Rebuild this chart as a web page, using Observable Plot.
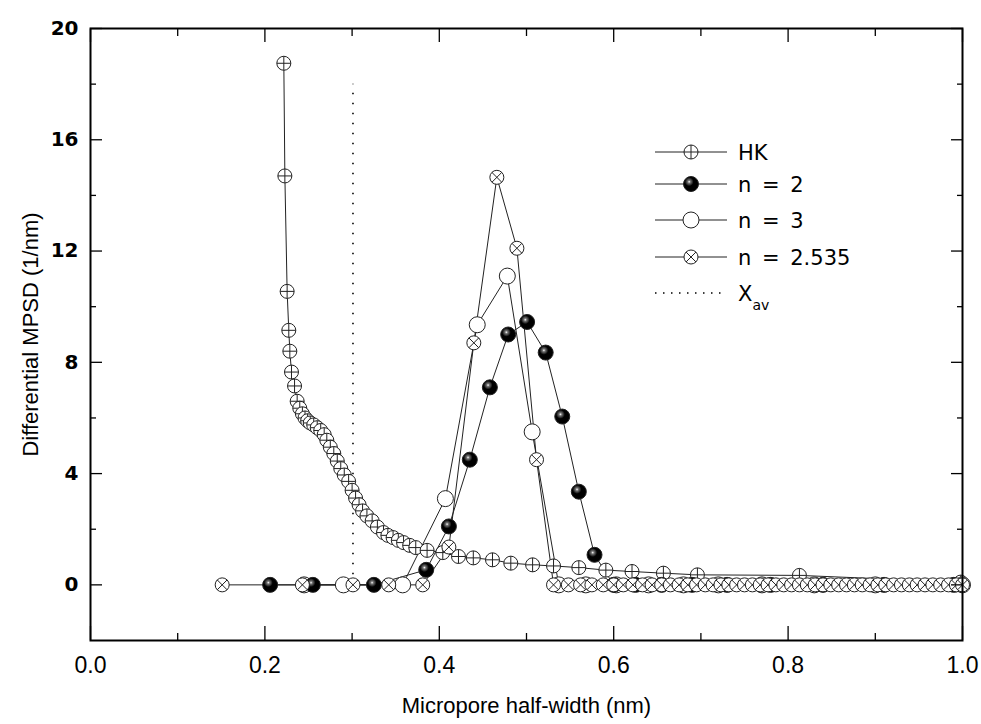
<!DOCTYPE html>
<html><head><meta charset="utf-8">
<script src="https://cdn.jsdelivr.net/npm/d3@7"></script>
<script src="https://cdn.jsdelivr.net/npm/@observablehq/plot@0.6"></script>
<style>body{margin:0;background:#fff}#chart{position:relative;width:981px;height:724px}</style>
</head><body><div id="chart"></div>
<script>
// ---- data ----
const hkX = [0.2217,0.2229,0.2255,0.2274,0.2286,0.2305,0.2340,0.2370,0.2400,0.2430,0.2460,0.2490,0.2520,0.2560,0.2600,0.2640,0.2680,0.2710,0.2750,0.2790,0.2830,0.2870,0.2910,0.2960,0.3000,0.3040,0.3080,0.3120,0.3170,0.3230,0.3290,0.3360,0.3410,0.3470,0.3530,0.3590,0.3660,0.3730,0.3860,0.4040,0.4220,0.4390,0.4610,0.4820,0.5070,0.5310,0.5600,0.5910,0.6210,0.6570,0.6960,0.8130,0.9980];
const hkY = [18.75,14.7,10.55,9.15,8.4,7.65,7.15,6.6,6.35,6.15,6.0,5.9,5.82,5.75,5.65,5.55,5.4,5.2,4.95,4.72,4.45,4.18,3.95,3.72,3.4,3.12,2.88,2.66,2.48,2.3,2.08,1.88,1.78,1.7,1.6,1.52,1.42,1.34,1.24,1.16,1.02,0.97,0.9,0.78,0.72,0.68,0.62,0.53,0.48,0.42,0.36,0.34,0.1];

const n2X = [0.206,0.255,0.325,0.385,0.411,0.435,0.458,0.479,0.5007,0.522,0.541,0.560,0.578,0.600,0.625,0.655,0.690,0.730,0.780,0.840,0.910,0.990];
const n2Y = [0,0,0,0.54,2.1,4.5,7.1,9.0,9.45,8.35,6.05,3.35,1.08,0,0,0,0,0,0,0,0,0];

const n3X = [0.245,0.290,0.358,0.407,0.4435,0.478,0.5065,0.537,0.568,0.603,0.640,0.680,0.720,0.770,0.830,0.900,1.000];
const n3Y = [0,0,0,3.1,9.35,11.1,5.5,0,0,0,0,0,0,0,0,0,0];

const n25X = [0.151,0.243,0.301,0.342,0.381,0.411,0.4396,0.466,0.489,0.5115,0.531,0.548,0.562,0.575,0.588,0.600,0.611,0.622,0.633,0.644,0.655,0.665,0.675,0.685,0.695,0.705,0.714,0.723,0.732,0.741,0.750,0.759,0.768,0.777,0.786,0.795,0.804,0.813,0.822,0.831,0.840,0.849,0.858,0.867,0.876,0.885,0.894,0.903,0.912,0.921,0.930,0.939,0.948,0.957,0.966,0.975,0.984,0.993,1.000];
const n25Y = [0,0,0,0,0,1.36,8.7,14.65,12.1,4.5,0,0,0,0,0,0,0,0,0,0,0,0,0,0,0,0,0,0,0,0,0,0,0,0,0,0,0,0,0,0,0,0,0,0,0,0,0,0,0,0,0,0,0,0,0,0,0,0,0];

const xavValue = 0.301, xavBottom = 0, xavTop = 18;

const seriesLabels = ["HK", "n = 2", "n = 3", "n = 2.535"];
const xMajor = [0, 0.2, 0.4, 0.6, 0.8, 1.0];
const xMinor = [0.1, 0.3, 0.5, 0.7, 0.9];
const yMajor = [0, 4, 8, 12, 16, 20];
const yMinor = [2, 6, 10, 14, 18];
const xTitle = "Micropore half-width (nm)";
const yTitle = "Differential MPSD (1/nm)";

// ---- build ----
const zip = (xs, ys) => xs.map((x, i) => ({x, y: ys[i]}));
const hk = zip(hkX, hkY), n2 = zip(n2X, n2Y), n3 = zip(n3X, n3Y), n25 = zip(n25X, n25Y);

const circlePlus = {draw(c, size) {const r = Math.sqrt(size / Math.PI);
  c.moveTo(r, 0); c.arc(0, 0, r, 0, 2 * Math.PI); c.closePath();
  c.moveTo(-r, 0); c.lineTo(r, 0); c.moveTo(0, -r); c.lineTo(0, r);}};
const circleX = {draw(c, size) {const r = Math.sqrt(size / Math.PI), k = r * Math.SQRT1_2;
  c.moveTo(r, 0); c.arc(0, 0, r, 0, 2 * Math.PI); c.closePath();
  c.moveTo(-k, -k); c.lineTo(k, k); c.moveTo(-k, k); c.lineTo(k, -k);}};
const circleO = {draw(c, size) {const r = Math.sqrt(size / Math.PI);
  c.moveTo(r, 0); c.arc(0, 0, r, 0, 2 * Math.PI); c.closePath();}};

const styles = [
  {data: hk, symbol: circlePlus, fill: "white", r: 7},
  {data: n2, symbol: circleO, fill: "url(#sphere)", r: 7.5},
  {data: n3, symbol: circleO, fill: "white", r: 8},
  {data: n25, symbol: circleX, fill: "white", r: 7}
];
const order = [0, 2, 1, 3];

const tickCommon = {fill: "none", label: null, stroke: "black", strokeWidth: 1.3};
const marks = [
  Plot.ruleX([xavValue], {x: d => d, y1: xavBottom, y2: xavTop, stroke: "black", strokeWidth: 1.6, strokeDasharray: "1.6,8.4"}),
];
for (const i of order) {
  const s = styles[i];
  marks.push(Plot.line(s.data, {x: "x", y: "y", stroke: "#222", strokeWidth: 1}));
}
for (const i of order) {
  const s = styles[i];
  marks.push(Plot.dot(s.data, {x: "x", y: "y", r: s.r, symbol: s.symbol, fill: s.fill, stroke: "#222", strokeWidth: 1}));
}
marks.push(
  Plot.frame({stroke: "black", strokeWidth: 2}),
  Plot.axisX(xMajor, {anchor: "bottom", tickSize: 14, dy: -14, ...tickCommon}),
  Plot.axisX(xMinor, {anchor: "bottom", tickSize: 7, dy: -7, ...tickCommon}),
  Plot.axisX(xMajor, {anchor: "top", tickSize: 13, dy: 13, ...tickCommon}),
  Plot.axisX(xMinor, {anchor: "top", tickSize: 7, dy: 7, ...tickCommon}),
  Plot.axisY(yMajor, {anchor: "left", tickSize: 12, dx: 12, ...tickCommon}),
  Plot.axisY(yMinor, {anchor: "left", tickSize: 6, dx: 6, ...tickCommon}),
  Plot.axisY(yMajor, {anchor: "right", tickSize: 12, dx: -12, ...tickCommon}),
  Plot.axisY(yMinor, {anchor: "right", tickSize: 6, dx: -6, ...tickCommon}),
  Plot.axisX(xMajor, {anchor: "bottom", tickSize: 0, tickPadding: 16, tickFormat: d3.format(".1f"), fontSize: 23, label: null}),
  Plot.axisY(yMajor, {anchor: "left", tickSize: 0, tickPadding: 12, fontSize: 20, fontWeight: "bold", fontFamily: "DejaVu Sans", label: null}),
  Plot.text([xTitle], {frameAnchor: "bottom", dy: 65, lineAnchor: "middle", textAnchor: "middle", fontSize: 22, text: d => d}),
  Plot.text([yTitle], {frameAnchor: "left", dx: -60, rotate: -90, textAnchor: "middle", lineAnchor: "middle", fontSize: 22, text: d => d})
);

const chart = Plot.plot({
  width: 981, height: 724,
  marginLeft: 90, marginRight: 19, marginTop: 28, marginBottom: 84,
  style: {fontFamily: "Liberation Sans, Arial, sans-serif", background: "white", color: "black", overflow: "visible"},
  x: {domain: [0, 1]},
  y: {domain: [-2, 20]},
  marks
});
document.getElementById("chart").appendChild(chart);

// gradient for the shaded (filled) spheres
const svg = d3.select(chart);
const grad = svg.append("defs").append("radialGradient").attr("id", "sphere")
  .attr("cx", "38%").attr("cy", "35%").attr("r", "65%");
grad.append("stop").attr("offset", "0%").attr("stop-color", "#fff");
grad.append("stop").attr("offset", "14%").attr("stop-color", "#777");
grad.append("stop").attr("offset", "45%").attr("stop-color", "#000");
grad.append("stop").attr("offset", "100%").attr("stop-color", "#000");

// legend (inside the plot frame, upper right)
const lg = svg.append("g").attr("font-family", "DejaVu Sans, sans-serif").attr("font-size", 21).attr("text-anchor", "start");
const rowsY = [152, 184, 220, 257, 293];
const lx0 = 655, lx1 = 727, lm = 691, lt = 738;
styles.forEach((s, i) => {
  const y = rowsY[i];
  lg.append("line").attr("x1", lx0).attr("x2", lx1).attr("y1", y).attr("y2", y).attr("stroke", "#222").attr("stroke-width", 1);
  lg.append("path").attr("transform", `translate(${lm},${y})`)
    .attr("d", d3.symbol(s.symbol, s.r * s.r * Math.PI)())
    .attr("fill", s.fill).attr("stroke", "#222").attr("stroke-width", 1);
  lg.append("text").attr("x", lt).attr("y", y).attr("dy", "0.36em").attr("word-spacing", 4).text(seriesLabels[i]);
});
{
  const y = rowsY[4];
  lg.append("line").attr("x1", lx0).attr("x2", lx1).attr("y1", y).attr("y2", y)
    .attr("stroke", "black").attr("stroke-width", 1.5).attr("stroke-dasharray", "1.5,6.5");
  const t = lg.append("text").attr("x", lt).attr("y", y).attr("dy", "0.36em");
  t.append("tspan").text("X");
  t.append("tspan").attr("font-size", 14).attr("dy", 9).text("av");
}
</script>
</body></html>
